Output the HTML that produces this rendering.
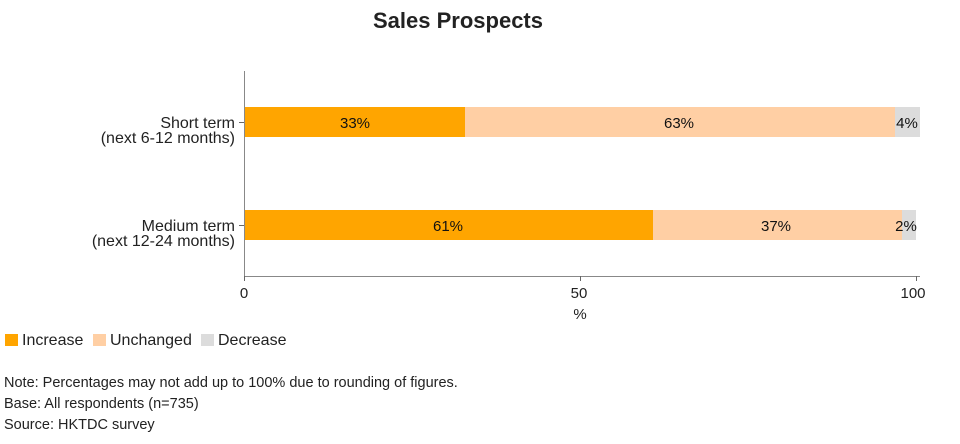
<!DOCTYPE html>
<html><head><meta charset="utf-8"><style>
html,body{margin:0;padding:0;background:#fff;width:960px;height:444px;overflow:hidden}
svg{display:block;font-family:"Liberation Sans",Arial,sans-serif}
</style></head><body>
<svg width="960" height="444" viewBox="0 0 960 444">
<text x="458" y="28" text-anchor="middle" font-size="22" font-weight="bold" fill="#222">Sales Prospects</text>
<line x1="244.5" y1="71" x2="244.5" y2="277" stroke="#888" stroke-width="1"/>
<line x1="244" y1="276.5" x2="920" y2="276.5" stroke="#888" stroke-width="1"/>
<line x1="239" y1="122.5" x2="244" y2="122.5" stroke="#666"/>
<line x1="239" y1="225.5" x2="244" y2="225.5" stroke="#666"/>
<line x1="244.5" y1="276" x2="244.5" y2="281" stroke="#666"/>
<line x1="580.5" y1="276" x2="580.5" y2="281" stroke="#666"/>
<line x1="916.5" y1="276" x2="916.5" y2="281" stroke="#666"/>
<g font-size="15" fill="#222">
<text x="244" y="298" text-anchor="middle">0</text>
<text x="579" y="298" text-anchor="middle">50</text>
<text x="913" y="298" text-anchor="middle">100</text>
<text x="580" y="319" text-anchor="middle">%</text>
</g>
<g font-size="16" fill="#222">
<text x="235" y="128" text-anchor="end">Short term</text>
<text x="235" y="143" text-anchor="end">(next 6-12 months)</text>
<text x="235" y="231" text-anchor="end">Medium term</text>
<text x="235" y="246" text-anchor="end">(next 12-24 months)</text>
</g>
<rect x="245" y="107" width="220" height="30" fill="#ffa500"/>
<rect x="465" y="107" width="430" height="30" fill="#ffcfa4"/>
<rect x="895" y="107" width="25" height="30" fill="#dcdcdc"/>
<rect x="245" y="210" width="408" height="30" fill="#ffa500"/>
<rect x="653" y="210" width="249" height="30" fill="#ffcfa4"/>
<rect x="902" y="210" width="14" height="30" fill="#dcdcdc"/>
<g font-size="15" fill="#111" text-anchor="middle">
<text x="355" y="128">33%</text>
<text x="679" y="128">63%</text>
<text x="907" y="128">4%</text>
<text x="448" y="231">61%</text>
<text x="776" y="231">37%</text>
<text x="906" y="231">2%</text>
</g>
<rect x="5" y="334" width="13" height="12" fill="#ffa500"/>
<text x="22" y="345" font-size="16" fill="#222">Increase</text>
<rect x="93" y="334" width="13" height="12" fill="#ffcfa4"/>
<text x="110" y="345" font-size="16" fill="#222">Unchanged</text>
<rect x="201" y="334" width="13" height="12" fill="#dcdcdc"/>
<text x="218" y="345" font-size="16" fill="#222">Decrease</text>
<g font-size="14.5" fill="#222">
<text x="4" y="387">Note: Percentages may not add up to 100% due to rounding of figures.</text>
<text x="4" y="408">Base: All respondents (n=735)</text>
<text x="4" y="429">Source: HKTDC survey</text>
</g>
</svg>
</body></html>
